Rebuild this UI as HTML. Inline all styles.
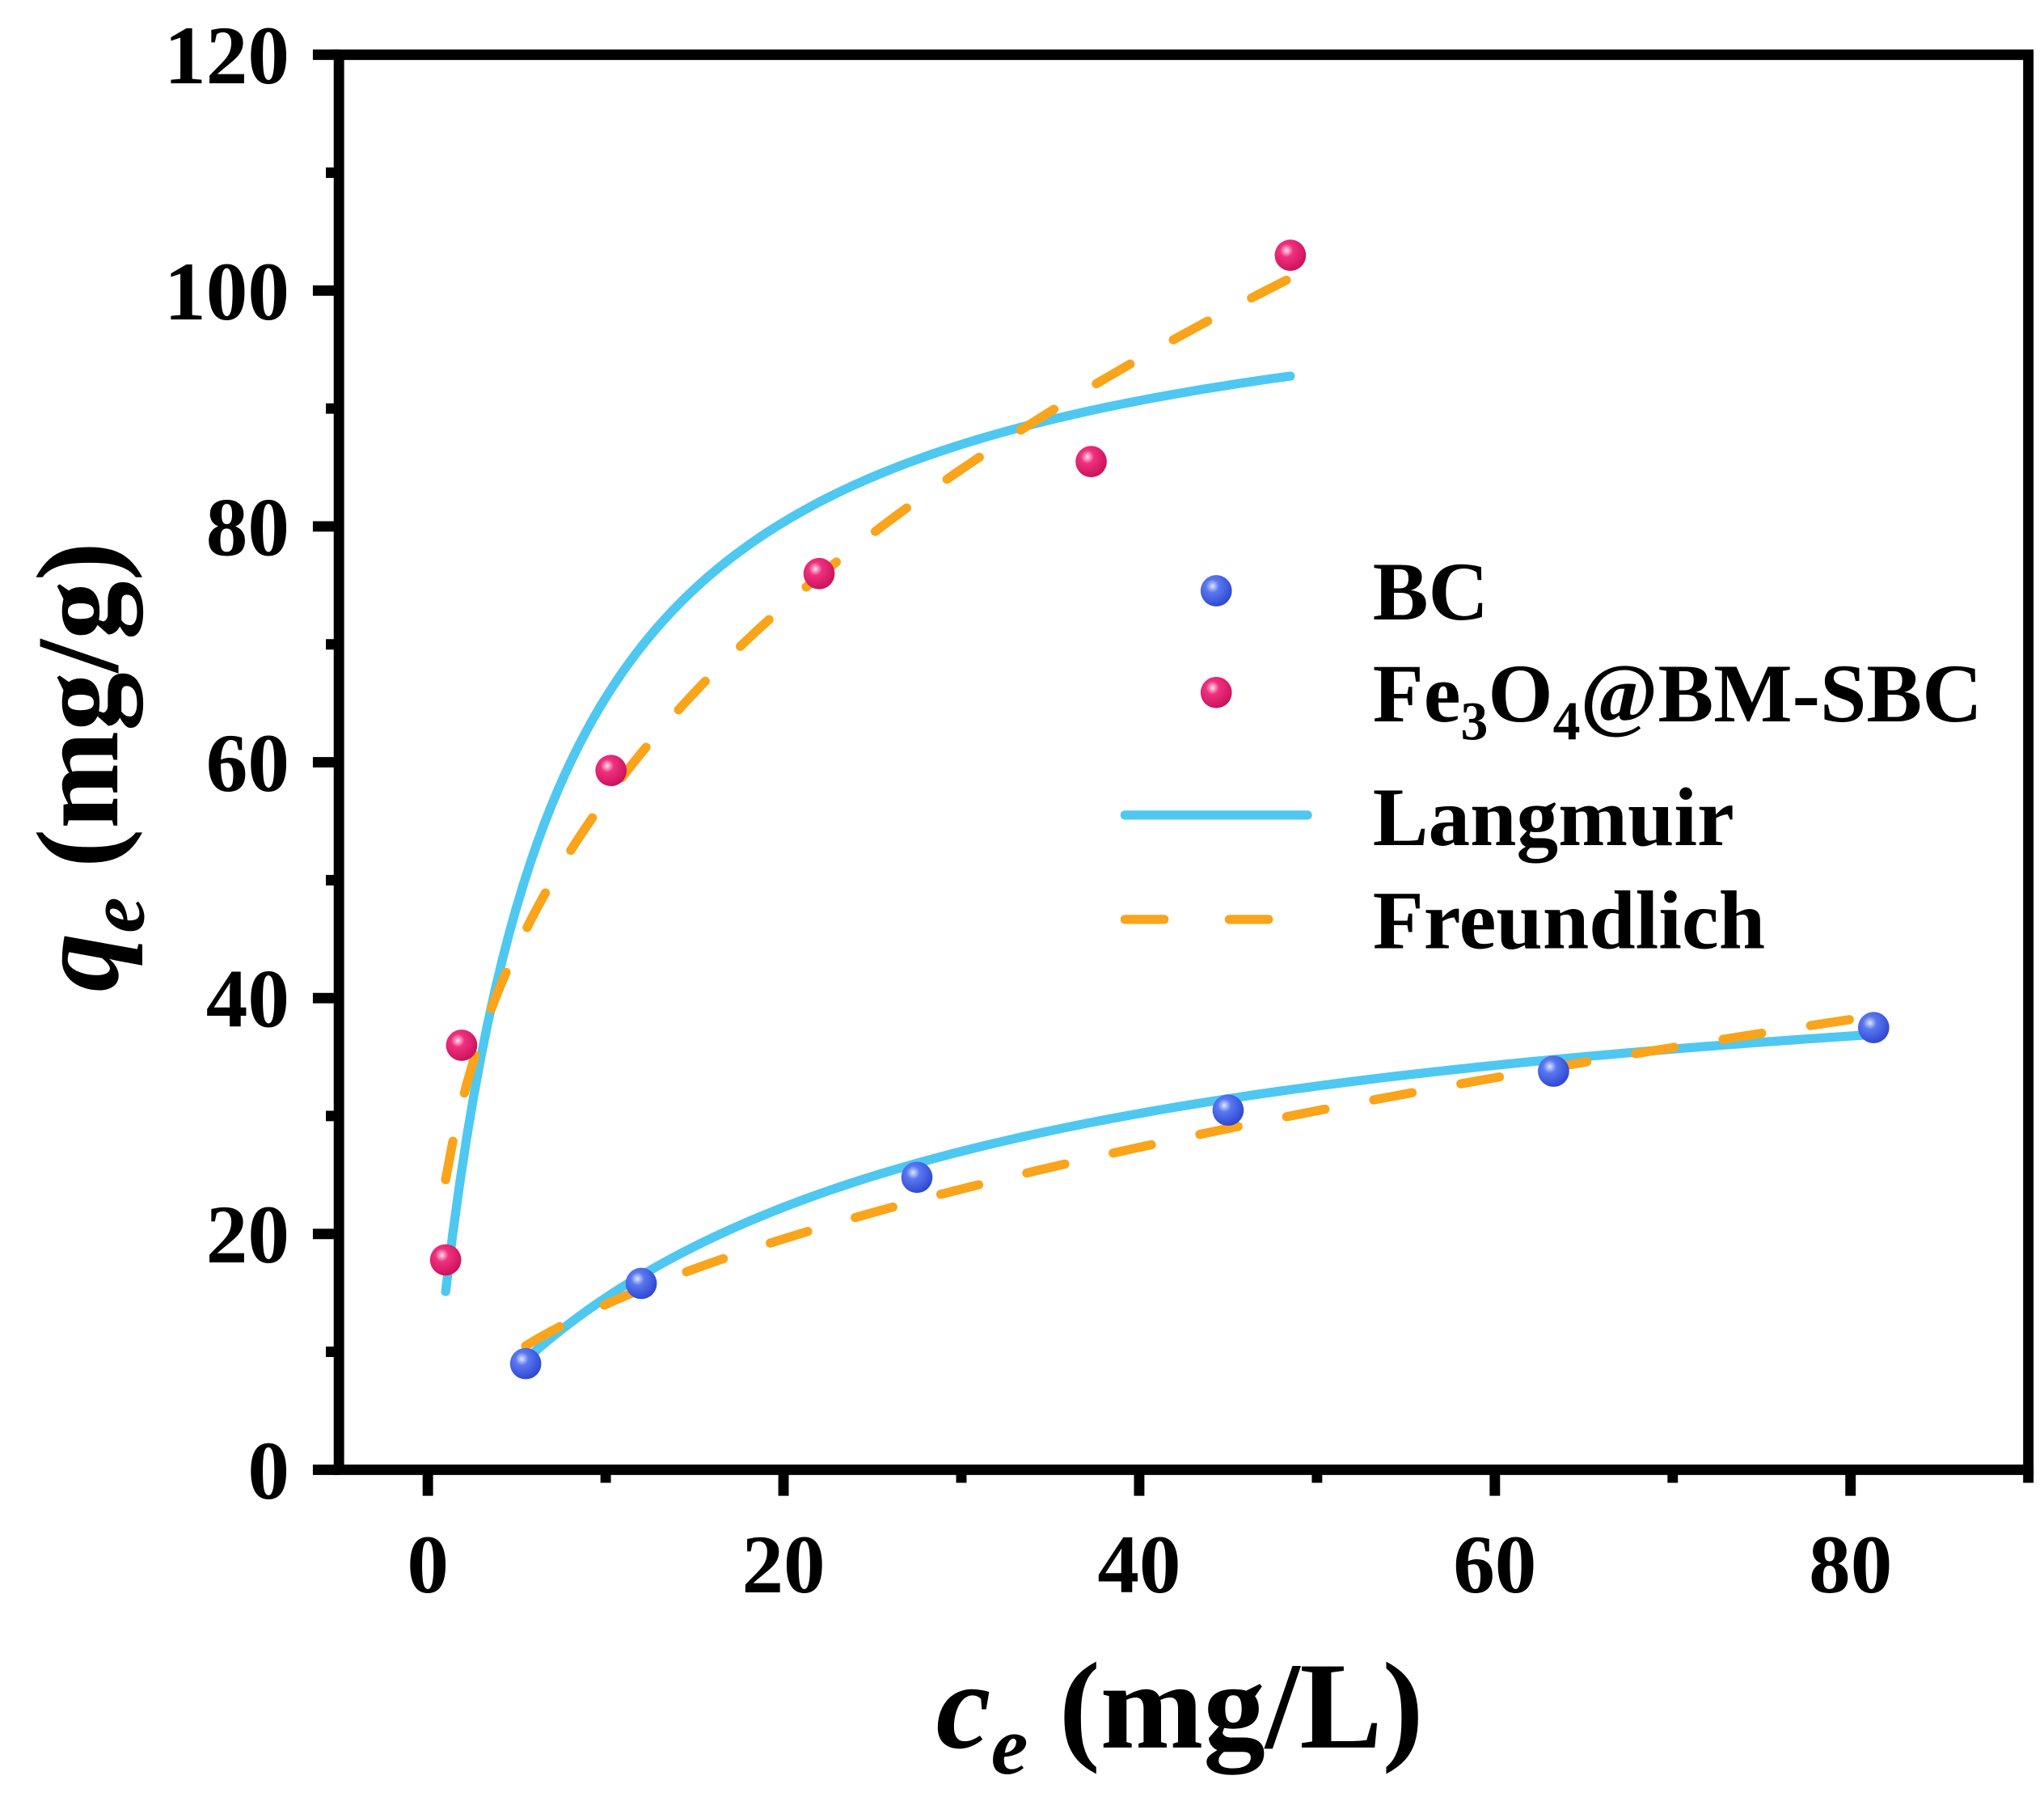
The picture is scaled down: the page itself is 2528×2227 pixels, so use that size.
<!DOCTYPE html>
<html><head><meta charset="utf-8"><style>
html,body{margin:0;padding:0;background:#fff;}
svg{display:block;font-family:"Liberation Serif","Times New Roman",serif;font-weight:bold;}
</style></head><body>
<svg id="chart" width="2528" height="2227" viewBox="0 0 1568 1381" preserveAspectRatio="none" xmlns="http://www.w3.org/2000/svg">
<defs>
<radialGradient id="gb" cx="0.38" cy="0.35" r="0.7"><stop offset="0" stop-color="#dfe6ff"/><stop offset="0.3" stop-color="#5a78f0"/><stop offset="1" stop-color="#2a44d0"/></radialGradient>
<radialGradient id="gp" cx="0.38" cy="0.35" r="0.7"><stop offset="0" stop-color="#ffe0ee"/><stop offset="0.3" stop-color="#f0307e"/><stop offset="1" stop-color="#c8105a"/></radialGradient>
</defs>
<g id="plot"></g>
</svg>
<script>
const xTicks=[0,20,40,60,80];
const yTicks=[0,20,40,60,80,100,120];
const bcX=[5.5,12,27.5,45,63.3,81.3];
const bcY=[9,15.8,24.8,30.5,33.8,37.5];
const feX=[1,1.9,10.3,22,37.3,48.5];
const feY=[17.8,36,59.3,76,85.5,103];
const bcLangmuir=[47,0.045];
const feLangmuir=[104,0.17];
const bcFreundlich=[4.62,0.482];
const feFreundlich=[24.6,0.364];
const bcRange=[5.5,81.3];
const feRange=[1,48.5];

const L=260,R=1556,T=42,B=1127,xMin=-5,xMax=90,yMin=0,yMax=120;
const sx=v=>L+(v-xMin)/(xMax-xMin)*(R-L);
const sy=v=>B-(v-yMin)/(yMax-yMin)*(B-T);
const NS='http://www.w3.org/2000/svg';
const g=document.getElementById('plot');
function mk(tag,attrs,parent){const e=document.createElementNS(NS,tag);for(const k in attrs)e.setAttribute(k,attrs[k]);(parent||g).appendChild(e);return e;}

function curve(fn,range,name,stroke,dash){
  let d='';const n=120;
  for(let i=0;i<=n;i++){const c=range[0]+(range[1]-range[0])*i/n;d+=(i?'L':'M')+sx(c).toFixed(2)+','+sy(fn(c)).toFixed(2);}
  const p=mk('path',{d:d,fill:'none',stroke:stroke,'stroke-width':7,'stroke-linecap':'round'});
  if(dash)p.setAttribute('stroke-dasharray',dash);
  
  
}
const lang=pr=>c=>pr[0]*pr[1]*c/(1+pr[1]*c);
const freu=pr=>c=>pr[0]*Math.pow(c,pr[1]);
curve(lang(feLangmuir),feRange,'langmuir-fe-curve','#4ec8f0');
curve(freu(feFreundlich),feRange,'freundlich-fe-curve','#f9a41a','30 38');
curve(lang(bcLangmuir),bcRange,'langmuir-bc-curve','#4ec8f0');
curve(freu(bcFreundlich),bcRange,'freundlich-bc-curve','#f9a41a','30 38');

function pts(xs,ys,fill,name){
  xs.forEach((x,i)=>{
    const c=mk('circle',{cx:sx(x),cy:sy(ys[i]),r:12,fill:fill});
    
    
  });
}
pts(bcX,bcY,'url(#gb)','bc-point');
pts(feX,feY,'url(#gp)','fe-point');

const fr=mk('rect',{x:L,y:T,width:R-L,height:B-T,fill:'none',stroke:'#000','stroke-width':8});



for(let v=0;v<=120;v+=10){
  const major=v%20===0;
  const t=mk('line',{x1:L,x2:L-(major?20:10),y1:sy(v),y2:sy(v),stroke:'#000','stroke-width':8});
  
  
}
yTicks.forEach(v=>{
  const t=mk('text',{x:222,y:sy(v)+22,'text-anchor':'end','font-size':64});
  t.textContent=v;
  
  
});
for(let v=0;v<=90;v+=10){
  const major=v%20===0;
  const t=mk('line',{x1:sx(v),x2:sx(v),y1:B,y2:B+(major?20:10),stroke:'#000','stroke-width':8});
  
  
}
xTicks.forEach(v=>{
  const t=mk('text',{x:sx(v),y:1221,'text-anchor':'middle','font-size':64});
  t.textContent=v;
  
  
});

const xt=mk('text',{x:905,y:1340,'text-anchor':'middle','font-size':95});
xt.innerHTML='<tspan font-style="italic">c</tspan><tspan font-style="italic" font-size="64" dy="20">e</tspan><tspan dy="-20"> (mg/L)</tspan>';


const yt=mk('text',{x:0,y:0,'text-anchor':'middle','font-size':90,transform:'translate(90,588) rotate(-90)'});
yt.innerHTML='<tspan font-style="italic">q</tspan><tspan font-style="italic" font-size="62" dy="20">e</tspan><tspan dy="-20"> (mg/g)</tspan>';



const lg=mk('g',{});


const m1=mk('circle',{cx:933,cy:453,r:12,fill:'url(#gb)'},lg);


const m2=mk('circle',{cx:933,cy:531,r:12,fill:'url(#gp)'},lg);


const l1=mk('line',{x1:863,x2:1003,y1:625,y2:625,stroke:'#4ec8f0','stroke-width':7,'stroke-linecap':'round'},lg);


const l2=mk('line',{x1:863,x2:1003,y1:705,y2:705,stroke:'#f9a41a','stroke-width':7,'stroke-linecap':'round','stroke-dasharray':'30 50'},lg);


const labels=[['BC',475,'legend-bc-label'],['Fe<tspan font-size="42" dy="14">3</tspan><tspan dy="-14">O</tspan><tspan font-size="42" dy="14">4</tspan><tspan dy="-14">@BM-SBC</tspan>',553,'legend-fe-label'],['Langmuir',648,'legend-langmuir-label'],['Freundlich',727,'legend-freundlich-label']];
labels.forEach(a=>{
  const t=mk('text',{x:1053,y:a[1],'font-size':64},lg);
  t.innerHTML=a[0];
  
  
});
</script>
</body></html>
